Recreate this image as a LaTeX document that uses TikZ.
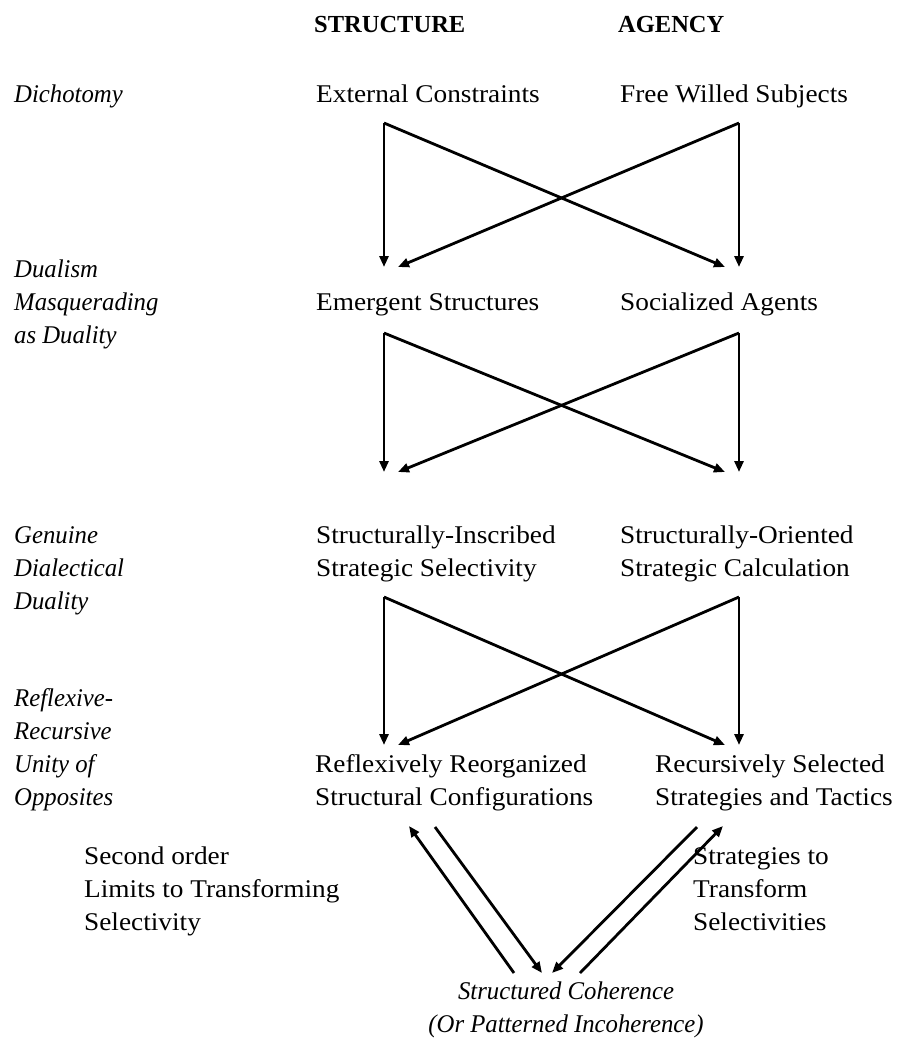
\documentclass[tikz,border=0pt]{standalone}
\usepackage{fontspec}
\setmainfont{Liberation Serif}[UprightFeatures={FakeStretch=1.07},BoldFeatures={FakeStretch=1.0},ItalicFeatures={FakeStretch=0.97}]
\usetikzlibrary{arrows.meta}
\newcommand\mylines[2][l]{\begin{tabular}[t]{@{}#1@{}}#2\end{tabular}}
\begin{document}
\begin{tikzpicture}[x=1pt,y=-1pt,
  txt/.style={inner sep=0pt,anchor=base west,font=\fontsize{25.5}{33}\selectfont},
  itl/.style={txt,font=\fontsize{25.5}{33}\selectfont\itshape},
  hdr/.style={txt,font=\fontsize{24.5}{30}\selectfont\bfseries},
  arr/.style={line width=2.8pt,-{Triangle[length=11pt,width=9pt]}}]
\useasboundingbox (0,0) rectangle (899,1042);
% headers
\node[hdr] (hs) at (314,32) {STRUCTURE};
\node[hdr] (ha) at (618,32) {AGENCY};
% left labels
\node[itl] (l1) at (14,102) {Dichotomy};
\node[itl] (l2) at (14,277) {\mylines{Dualism\\Masquerading\\as Duality}};
\node[itl] (l3) at (14,543) {\mylines{Genuine\\Dialectical\\Duality}};
\node[itl] (l4) at (14,706) {\mylines{Reflexive-\\Recursive\\Unity of\\Opposites}};
% rows
\node[txt] (s1) at (316,102) {External Constraints};
\node[txt] (a1) at (620,102) {Free Willed Subjects};
\node[txt] (s2) at (316,310) {Emergent Structures};
\node[txt] (a2) at (620,310) {Socialized Agents};
\node[txt] (s3) at (316,543) {\mylines{Structurally-Inscribed\\Strategic Selectivity}};
\node[txt] (a3) at (620,543) {\mylines{Structurally-Oriented\\Strategic Calculation}};
\node[txt] (s4) at (315,772) {\mylines{Reflexively Reorganized\\Structural Configurations}};
\node[txt] (a4) at (655,772) {\mylines{Recursively Selected\\Strategies and Tactics}};
% side labels
\node[txt] (sl) at (84,864) {\mylines{Second order\\Limits to Transforming\\Selectivity}};
\node[txt] (al) at (693,864) {\mylines{Strategies to\\Transform\\Selectivities}};
\node[itl,anchor=base] (sc) at (566,999) {\mylines[c]{Structured Coherence\\(Or Patterned Incoherence)}};
% arrow end points
\foreach \r/\t/\b in {1/123/267,2/333/472,3/597/745}{
  \coordinate (L\r t) at (384,\t);
  \coordinate (R\r t) at (739,\t);
  \coordinate (L\r b) at (384,\b);
  \coordinate (R\r b) at (739,\b);
  \coordinate (X\r l) at (398,\b);
  \coordinate (X\r r) at (725,\b);
  \draw[arr] (L\r t) -- (L\r b);
  \draw[arr] (R\r t) -- (R\r b);
  \draw[arr] (L\r t) -- (X\r r);
  \draw[arr] (R\r t) -- (X\r l);
}
% bottom arrows
\coordinate (bl1) at (514,973);
\coordinate (tl1) at (409,826);
\coordinate (tl2) at (435,827);
\coordinate (bl2) at (542,973);
\coordinate (tr1) at (697,827);
\coordinate (br1) at (552,973);
\coordinate (br2) at (580,973);
\coordinate (tr2) at (723,826);
\draw[arr] (bl1) -- (tl1);
\draw[arr] (tl2) -- (bl2);
\draw[arr] (tr1) -- (br1);
\draw[arr] (br2) -- (tr2);
\end{tikzpicture}
\end{document}
